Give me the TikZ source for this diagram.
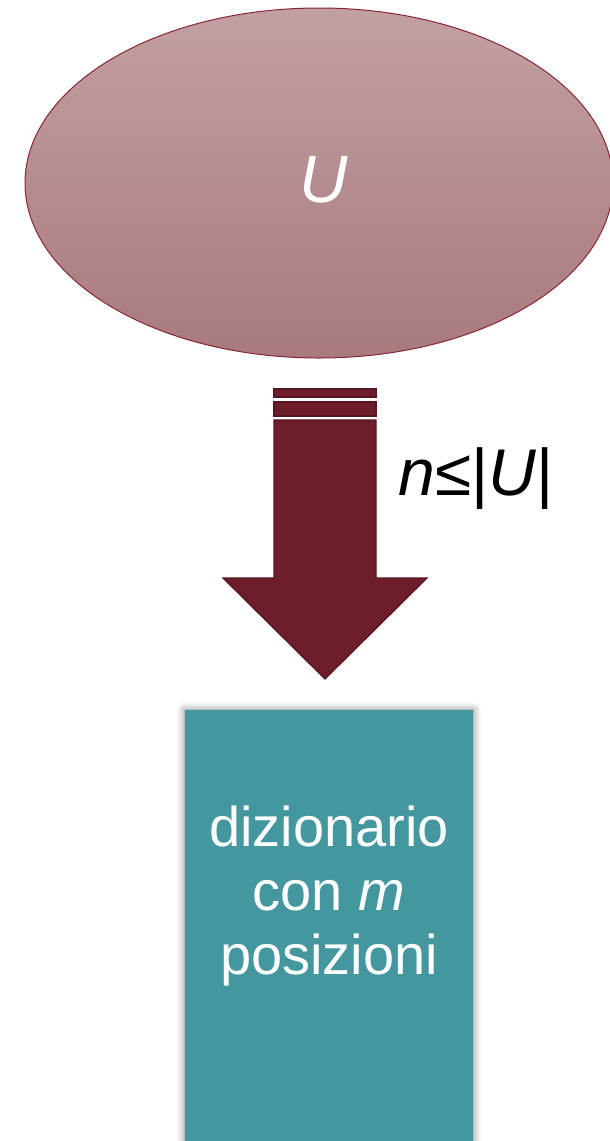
\documentclass[tikz,border=0pt]{standalone}
\usepackage{fontspec}
\setmainfont{Liberation Sans}
\usetikzlibrary{shapes.geometric,shadows.blur}
\definecolor{wine}{HTML}{6D1E2A}
\definecolor{wineedge}{HTML}{561520}
\definecolor{rosetop}{HTML}{C2A0A2}
\definecolor{rosebot}{HTML}{A87A7E}
\definecolor{roseedge}{HTML}{8A2535}
\definecolor{tealbox}{HTML}{45979F}
\tikzset{
  arrowpart/.style={fill=wine, draw=wineedge, line width=1.2pt, line join=miter},
  whitetext/.style={text=white, inner sep=0pt},
}
\begin{document}
\begin{tikzpicture}[x=1pt,y=-1pt]
\useasboundingbox (0,0) rectangle (610,1141);
\clip (0,0) rectangle (610,1141);

% universe
\node[ellipse, draw=roseedge, line width=1pt, top color=rosetop, bottom color=rosebot,
      minimum width=588pt, minimum height=350pt, inner sep=0pt] (univ) at (319,183) {};
\node[whitetext] (ulabel) at (324,180) {\fontsize{67}{72}\selectfont\itshape U};

% striped block arrow
\draw[arrowpart] (274,389) rectangle (376,397);
\draw[arrowpart] (274,402) rectangle (376,416);
\draw[arrowpart] (274,420) -- (376,420) -- (376,578) -- (427,578) -- (325,679)
  -- (223,578) -- (274,578) -- cycle;
\node[inner sep=0pt] (cond) at (476,479) {\fontsize{66}{72}\selectfont\textit{n}≤|\textit{U}|};

% dictionary
\node[fill=tealbox, minimum width=288pt, minimum height=480pt, anchor=north, inner sep=0pt,
      blur shadow={shadow xshift=0pt, shadow yshift=0pt, shadow blur radius=8pt, shadow opacity=55}]
      (dict) at (329,710) {};
\node[whitetext, align=center, font=\fontsize{56}{64}\selectfont] (dtext) at (329,896)
      {dizionario\\con \textit{m}\\posizioni};
\end{tikzpicture}
\end{document}
